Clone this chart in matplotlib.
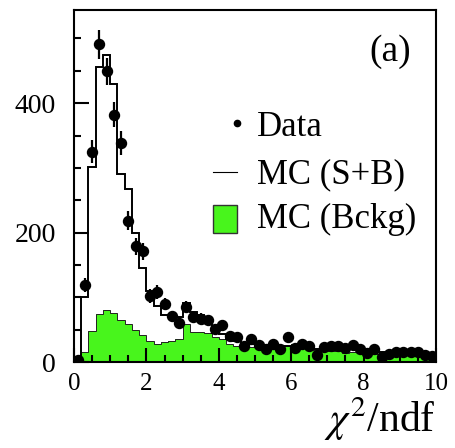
import numpy as np
import matplotlib
matplotlib.use("Agg")
import matplotlib.pyplot as plt
from matplotlib.ticker import MultipleLocator

plt.rcParams["font.family"] = ["Liberation Serif", "DejaVu Serif"]
plt.rcParams["mathtext.fontset"] = "stix"

# chi2/ndf histograms, 50 bins of 0.2 between 0 and 10
edges = np.linspace(0.0, 10.0, 51)
centers = 0.5 * (edges[:-1] + edges[1:])

data_counts = [
    3, 119, 325, 491, 449, 382, 338, 218, 179, 171,
    102, 108, 90, 71, 61, 85, 70, 67, 65, 51,
    57, 40, 39, 24, 35, 27, 20, 28, 20, 39,
    22, 28, 25, 11, 23, 25, 25, 21, 26, 20,
    14, 20, 7, 12, 16, 16, 16, 16, 11, 10,
]

mc_sig_bkg = [
    5, 100, 301, 456, 475, 430, 290, 268, 200, 146,
    110, 86, 72, 71, 70, 91, 78, 72, 60, 45,
    43, 36, 33, 30, 28, 27, 25, 24, 23, 24,
    25, 22, 20, 20, 21, 20, 20, 19, 21, 20,
    18, 17, 15, 14, 15, 14, 14, 13, 11, 10,
]

mc_bkg = [
    3, 16, 48, 74, 81, 76, 65, 59, 50, 41,
    33, 28, 31, 33, 35, 58, 47, 47, 45, 38,
    35, 28, 25, 24, 23, 24, 23, 23, 22, 24,
    28, 27, 18, 18, 18, 17, 17, 14, 16, 16,
    13, 13, 12, 12, 12, 11, 11, 11, 10, 9,
]

GREEN = "#48f51c"

fig = plt.figure(figsize=(4.55, 4.48), dpi=100)
ax = fig.add_axes([74 / 455, 1 - 362 / 448, 362 / 455, 352 / 448])

# background MC (filled) and signal+background MC (outline)
ax.stairs(mc_bkg, edges, fill=True, color=GREEN, zorder=1)
ax.stairs(mc_bkg, edges, color="#222222", lw=0.7, zorder=2)
ax.stairs(mc_sig_bkg, edges, color="black", lw=1.4, zorder=3)

data = np.array(data_counts, dtype=float)
ax.errorbar(centers, data, yerr=np.sqrt(data), fmt="o", ms=7.2,
            color="black", elinewidth=1.6, capsize=0, zorder=4)

ax.set_xlim(0, 10)
ax.set_ylim(0, 544)

ax.xaxis.set_major_locator(MultipleLocator(2))
ax.xaxis.set_minor_locator(MultipleLocator(0.5))
ax.yaxis.set_major_locator(MultipleLocator(200))
ax.yaxis.set_minor_locator(MultipleLocator(50))
ax.tick_params(which="both", direction="in", width=1.5,
               top=False, right=False)
ax.tick_params(axis="x", which="major", length=10, pad=8, labelsize=18)
ax.tick_params(axis="x", which="minor", length=5)
ax.tick_params(axis="y", which="major", length=11, pad=13, labelsize=20)
ax.tick_params(axis="y", which="minor", length=5)
for s in ax.spines.values():
    s.set_linewidth(1.5)

ax.set_xlabel(r"$\chi^{2}$/ndf", fontsize=30, loc="right", labelpad=0)

# panel tag
ax.text(0.93, 0.93, "(a)", transform=ax.transAxes, fontsize=27,
        ha="right", va="top")

# legend drawn by hand
tr = ax.transAxes
ax.plot([0.449], [0.679], "o", ms=4.5, color="black", transform=tr,
        clip_on=False)
ax.text(0.505, 0.642, "Data", transform=tr, fontsize=25, va="baseline")
ax.plot([0.384, 0.450], [0.541, 0.541], color="black", lw=0.8,
        transform=tr)
ax.text(0.505, 0.508, "MC (S+B)", transform=tr, fontsize=25,
        va="baseline")
ax.add_patch(plt.Rectangle((0.384, 0.366), 0.066, 0.080, transform=tr,
                           facecolor=GREEN, edgecolor="#333333", lw=1.0))
ax.text(0.505, 0.381, "MC (Bckg)", transform=tr, fontsize=25,
        va="baseline")

fig.savefig("out.png", dpi=100)
